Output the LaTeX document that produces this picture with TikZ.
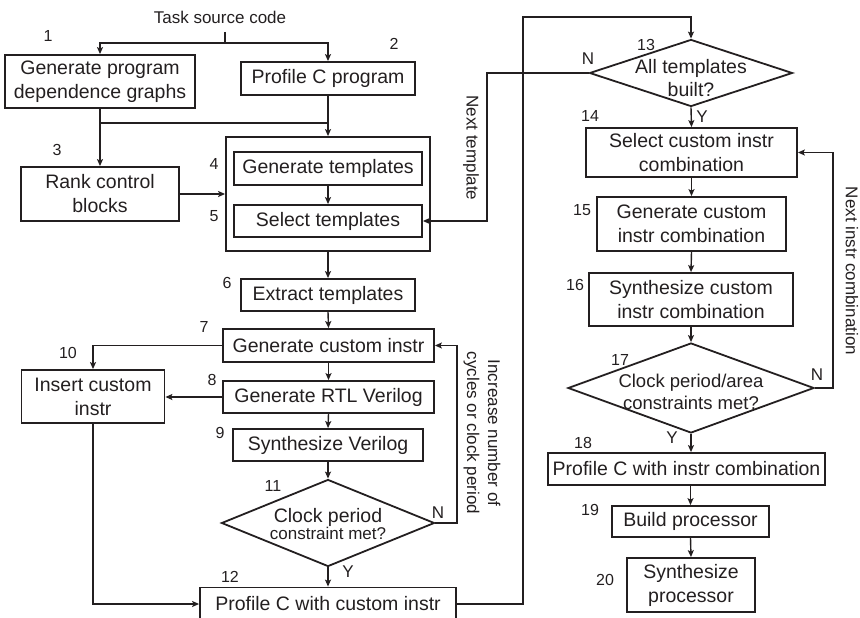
\documentclass[tikz,border=0pt]{standalone}
\usepackage{fontspec}
\setmainfont{Liberation Sans}
\usetikzlibrary{arrows.meta,shapes.geometric}
\definecolor{ink}{RGB}{35,31,32}

\begin{document}
\begin{tikzpicture}[x=1pt,y=-1pt,
  every node/.style={text=ink},
  box/.style={draw=ink, line width=1.8pt, rectangle, inner sep=0pt, align=center,
              font=\fontsize{19.5}{24}\selectfont},
  dia/.style={draw=ink, line width=1.8pt, diamond, inner sep=0pt},
  diatext/.style={align=center, inner sep=0pt, font=\fontsize{19.5}{23}\selectfont},
  num/.style={font=\fontsize{16}{18}\selectfont, inner sep=0pt},
  yn/.style={font=\fontsize{17}{20}\selectfont, inner sep=0pt},
  side/.style={font=\fontsize{17}{21}\selectfont, rotate=-90, align=center, inner sep=0pt},
  flow/.style={draw=ink, line width=1.4pt, -{Stealth[length=7pt,width=6pt,inset=1.5pt]}},
  wire/.style={draw=ink, line width=1.4pt},
]
\useasboundingbox (0,0) rectangle (860,618);

% ---------- left column ----------
\node[font=\fontsize{17}{20}\selectfont, inner sep=0pt] (src) at (220,17) {Task source code};
\coordinate (tick) at (225,32);
\coordinate (split) at (225,43);

\node[box, minimum width=190pt, minimum height=53pt] (b1) at (100,81.5) {Generate program\\dependence graphs};
\node[box, minimum width=174pt, minimum height=33pt] (b2) at (328,78.5) {Profile C program};
\coordinate (m1) at (100,123);
\node[box, minimum width=158pt, minimum height=54pt] (b3) at (100,194) {Rank control\\blocks};

\node[box, minimum width=204pt, minimum height=114pt] (cont) at (328,194) {};
\node[box, minimum width=188pt, minimum height=33pt] (b4) at (328,168.5) {Generate templates};
\node[box, minimum width=188pt, minimum height=32pt] (b5) at (328,221) {Select templates};

\node[box, minimum width=174pt, minimum height=32pt] (b6) at (328,295) {Extract templates};
\node[box, minimum width=211pt, minimum height=33pt] (b7) at (328.5,345.5) {Generate custom instr};
\node[box, minimum width=211pt, minimum height=32pt] (b8) at (328.5,397) {Generate RTL Verilog};
\node[box, minimum width=190pt, minimum height=32pt] (b9) at (328,445) {Synthesize Verilog};
\node[dia, minimum width=213pt, minimum height=87pt] (d11) at (328,523) {};
\node[align=center, inner sep=0pt] (t11) at (328,524)
  {\fontsize{19.5}{22}\selectfont Clock period\\\fontsize{17}{22}\selectfont constraint met?};
\node[box, minimum width=143pt, minimum height=53pt] (b10) at (93,396.5) {Insert custom\\instr};
\node[box, minimum width=256pt, minimum height=33pt] (b12) at (328,604) {Profile C with custom instr};

% ---------- right column ----------
\node[dia, minimum width=203pt, minimum height=67pt] (d13) at (691,73) {};
\node[diatext] (t13) at (691,78) {All templates\\built?};
\node[box, minimum width=211pt, minimum height=49pt] (b14) at (691.5,152.5) {Select custom instr\\combination};
\node[box, minimum width=189pt, minimum height=54pt] (b15) at (691.5,224) {Generate custom\\instr combination};
\node[box, minimum width=204pt, minimum height=53pt] (b16) at (691,299.5) {Synthesize custom\\instr combination};
\node[dia, minimum width=246pt, minimum height=90pt] (d17) at (691,388) {};
\node[diatext, font=\fontsize{18.5}{22}\selectfont] (t17) at (691,392) {Clock period/area\\constraints met?};
\node[box, minimum width=277pt, minimum height=32pt] (b18) at (686.5,469) {Profile C with instr combination};
\node[box, minimum width=157pt, minimum height=31pt] (b19) at (690.5,521.5) {Build processor};
\node[box, minimum width=128pt, minimum height=54pt] (b20) at (691,585) {Synthesize\\processor};

% ---------- bend points ----------
\coordinate (loop11) at (457,523);
\coordinate (nt) at (487,73);
\coordinate (up) at (523,17);
\coordinate (loop17) at (833,388);

% ---------- connectors ----------
\draw[wire] (tick) -- (split);
\draw[flow] (split) -| (b1.north);
\draw[flow] (split) -| (b2.north);
\draw[wire] (m1) -- (m1 -| b2.south);
\draw[flow] (b2.south) -- (cont.north);
\draw[flow] (b1.south) -- (b3.north);
\draw[flow] (b3.east) -- (b3.east -| cont.west);
\draw[flow] (b4.south) -- (b5.north);
\draw[flow] (cont.south) -- (b6.north);
\draw[flow] (b6.south) -- (b7.north);
\draw[flow] (b7.south) -- (b8.north);
\draw[flow] (b8.south) -- (b9.north);
\draw[flow] (b9.south) -- (d11.north);
\draw[flow] (d11.south) -- (b12.north);
\draw[flow] (d11.east) -- (loop11) |- (b7.east);
\draw[flow] (b7.west) -| (b10.north);
\draw[flow] (b8.west) -- (b8.west -| b10.east);
\draw[flow] (b10.south) |- (b12.west);
\draw[flow] (b12.east) -| (up) -| (d13.north);
\draw[flow] (d13.west) -- (nt) |- (b5.east);
\draw[flow] (d13.south) -- (b14.north);
\draw[flow] (b14.south) -- (b15.north);
\draw[flow] (b15.south) -- (b16.north);
\draw[flow] (b16.south) -- (d17.north);
\draw[flow] (d17.south) -- (d17.south |- b18.north);
\draw[flow] (d17.east) -- (loop17) |- (b14.east);
\draw[flow] (b18.south -| b19.north) -- (b19.north);
\draw[flow] (b19.south) -- (b20.north);

% ---------- step numbers ----------
\node[num] at (48,36) {1};
\node[num] at (394,44) {2};
\node[num] at (57,150) {3};
\node[num] at (214,164) {4};
\node[num] at (214,216) {5};
\node[num] at (227,283) {6};
\node[num] at (204,327) {7};
\node[num] at (212,380) {8};
\node[num] at (220,433) {9};
\node[num] at (68,353) {10};
\node[num] at (273,486) {11};
\node[num] at (230,577) {12};
\node[num] at (646,45) {13};
\node[num] at (590,116) {14};
\node[num] at (582,210) {15};
\node[num] at (575,285) {16};
\node[num] at (620,360) {17};
\node[num] at (583,443) {18};
\node[num] at (590,510) {19};
\node[num] at (605,580) {20};

% ---------- branch letters ----------
\node[yn] at (438,513) {N};
\node[yn] at (348,572) {Y};
\node[yn] at (588,59) {N};
\node[yn] at (702,117) {Y};
\node[yn] at (817,375) {N};
\node[yn] at (672,438) {Y};

% ---------- loop labels ----------
\node[side] at (471,148) {Next template};
\node[side] at (482,433) {Increase number of\\cycles or clock period};
\node[side] at (852,271) {Next instr combination};
\end{tikzpicture}
\end{document}
